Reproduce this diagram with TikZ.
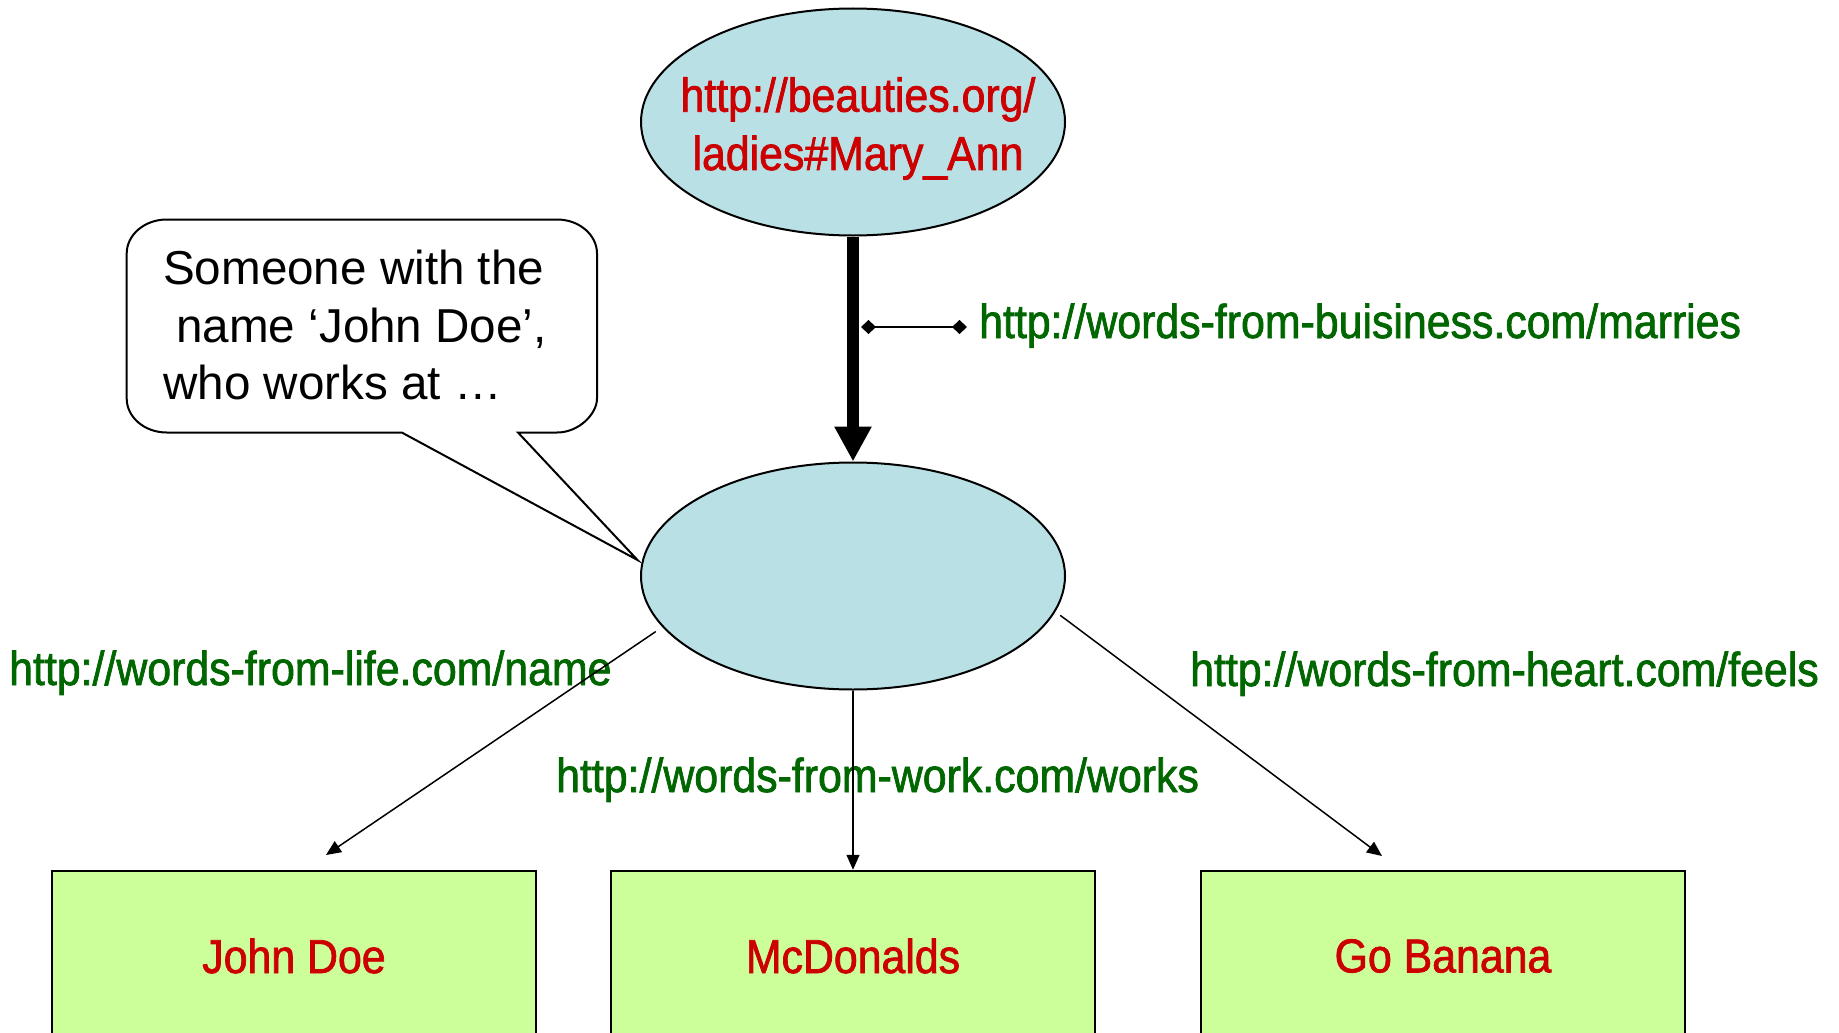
\documentclass[tikz,border=0pt]{standalone}
\usepackage{fontspec}
\setmainfont{Liberation Sans}
\newfontfamily\narrowfont[FakeStretch=0.9,FakeBold=1.5]{Liberation Sans}
\usetikzlibrary{arrows.meta,shapes.geometric}
\definecolor{ellblue}{RGB}{185,224,228}
\definecolor{boxgreen}{RGB}{204,255,153}
\definecolor{urlgreen}{RGB}{0,102,0}
\definecolor{urired}{RGB}{204,0,0}
\begin{document}
\begin{tikzpicture}[x=1pt,y=-1pt,
  res/.style={ellipse, draw=black, line width=2pt, fill=ellblue, minimum width=424pt, minimum height=227pt, inner sep=0pt},
  lit/.style={rectangle, draw=black, line width=2.5pt, fill=boxgreen, minimum width=484pt, minimum height=170pt, inner sep=0pt, text=urired, font=\narrowfont\fontsize{47.6}{58.3}\selectfont},
  redtxt/.style={text=urired, font=\narrowfont\fontsize{47.6}{58.3}\selectfont, inner sep=0pt, align=center},
  url/.style={text=urlgreen, font=\narrowfont\fontsize{47.6}{57}\selectfont, inner sep=0pt, anchor=base west},
  thinarrow/.style={line width=1.5pt, -{Triangle[length=15pt,width=13pt]}},
  bubble/.style={draw=black, line width=2pt, fill=white, line join=miter},
]
\useasboundingbox (0,0) rectangle (1839,1033);
\clip (0,0) rectangle (1839,1033);

% resources
\node[res] (e1) at (853,122) {};
\node[redtxt, anchor=north] (e1t) at (858,77) {http://beauties.org/\\ladies\#Mary\_Ann};
\node[res] (e2) at (853,576) {};

% literal boxes
\node[lit] (jd) at (294,956) {John Doe};
\node[lit] (mc) at (853,956) {McDonalds};
\node[lit] (gb) at (1443,956) {Go Banana};

% property labels
\node[url] (lmarr) at (979,338) {http://words-from-buisiness.com/marries};
\node[url] (lname) at (9,685) {http://words-from-life.com/name};
\node[url] (lwork) at (556,792) {http://words-from-work.com/works};
\node[url] (lheart) at (1190,686) {http://words-from-heart.com/feels};

% connectors
\draw[line width=11.7pt, -{Triangle[length=35pt,width=35pt]}] (e1.south) -- (e2.north);
\coordinate (m1) at (861,327);
\coordinate (m2) at (967,327);
\draw[line width=2.5pt, {Diamond[length=15pt,width=14pt]}-{Diamond[length=15pt,width=14pt]}] (m1) -- (m2);

\coordinate (jdend) at (326,855);
\coordinate (gbend) at (1382,856);
\draw[thinarrow, shorten <=8pt] (e2.195.3) -- (jdend);
\draw[thinarrow] (e2.south) -- (mc.north);
\draw[thinarrow, shorten <=6pt] (e2.350) -- (gbend);

% speech bubble
\draw[bubble] (401.8,432.5) -- (637.5,560) -- (518,432.5) -- (557,432.5)
  .. controls (579.08,432.5) and (597,413.73) .. (597,398.5) -- (597,253.5)
  .. controls (597,234.73) and (579.08,219.5) .. (557,219.5) -- (166.7,219.5)
  .. controls (144.62,219.5) and (126.7,234.73) .. (126.7,253.5) -- (126.7,398.5)
  .. controls (126.7,417.27) and (144.62,432.5) .. (166.7,432.5) -- cycle;
\node[anchor=north west, align=left, inner sep=0pt, font=\fontsize{47.6}{57.5}\selectfont] (bubtxt) at (163,250.3)
  {Someone with the\\\hspace*{13.2pt}name ‘John Doe’,\\who works at …};
\end{tikzpicture}
\end{document}
